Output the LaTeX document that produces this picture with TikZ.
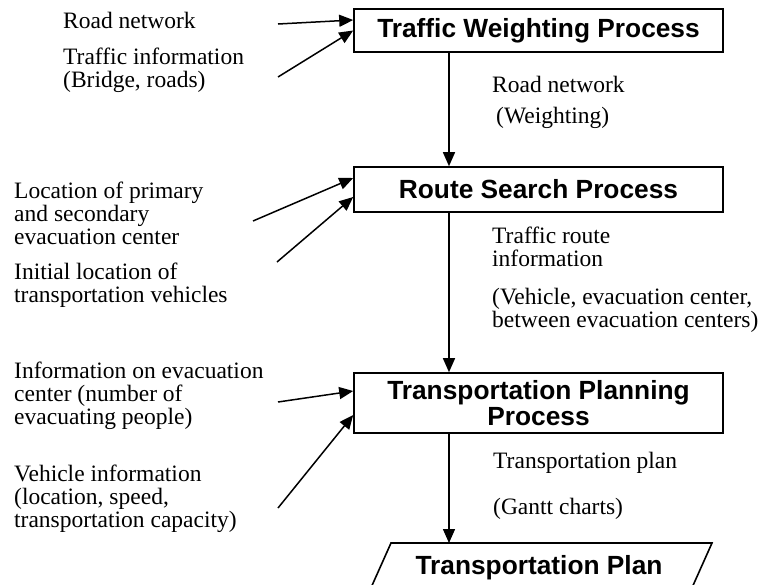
\documentclass[tikz,border=0pt]{standalone}
\usepackage{fontspec}
\setmainfont{Liberation Serif}
\newfontfamily\procfont{Liberation Sans}
\usetikzlibrary{arrows.meta}

\tikzset{
  procbox/.style={draw, line width=1.6pt, minimum width=369pt, inner sep=0pt,
    font=\procfont\bfseries\fontsize{26.3}{26.5}\selectfont, align=center},
  planlabel/.style={inner sep=0pt, anchor=base,
    font=\procfont\bfseries\fontsize{26.3}{26.5}\selectfont},
  % multi-line notes are placed by the baseline of their last line
  note/.style={anchor=base west, inner sep=0pt, align=left,
    font=\fontsize{23.5}{23}\selectfont},
  flow/.style={line width=1.5pt, -{Triangle[length=14pt,width=12pt]}},
}

\begin{document}
\begin{tikzpicture}[x=1pt,y=-1pt]
\useasboundingbox (0,0) rectangle (766,584);

% process boxes
\node[procbox, minimum height=43pt] (b1) at (538.5,30.5) {Traffic Weighting Process};
\node[procbox, minimum height=45pt] (b2) at (538.5,189.5) {Route Search Process};
\node[procbox, minimum height=60pt] (b3) at (538.5,403) {Transportation Planning\\Process};

% output document (parallelogram running off the page bottom)
\begin{scope}
  \clip (0,0) rectangle (766,584);
  \draw[line width=1.6pt] (391,543) -- (712,543) -- (691,590) -- (370,590) -- cycle;
\end{scope}
\node[planlabel] (plan) at (539,574) {Transportation Plan};
\coordinate (plantop) at (449,543);

% main flow
\coordinate (ax) at (449,0);
\draw[flow] (b1.south -| ax) -- (b2.north -| ax);
\draw[flow] (b2.south -| ax) -- (b3.north -| ax);
\draw[flow] (b3.south -| ax) -- (plantop);

% flow labels
\node[note] (f1a) at (492,92) {Road network};
\node[note] (f1b) at (496,123) {(Weighting)};
\node[note] (f2a) at (492,266) {Traffic route\\information};
\node[note] (f2b) at (492,327) {(Vehicle, evacuation center,\\between evacuation centers)};
\node[note] (f3a) at (493,468) {Transportation plan};
\node[note] (f3b) at (493,514) {(Gantt charts)};

% inputs to the traffic weighting process
\node[note] (n1) at (63,28) {Road network};
\node[note] (n2) at (63,87) {Traffic information\\(Bridge, roads)};
\coordinate (s1) at (278,24);
\coordinate (s2) at (278,77);
\draw[flow] (s1) -- ([yshift=10.5pt]b1.west);
\draw[flow] (s2) -- (b1.west);

% inputs to the route search process
\node[note] (n3) at (14,244) {Location of primary\\and secondary\\evacuation center};
\node[note] (n4) at (14,302) {Initial location of\\transportation vehicles};
\coordinate (s3) at (253,221);
\coordinate (s4) at (277,262);
\draw[flow] (s3) -- ([yshift=11.5pt]b2.west);
\draw[flow] (s4) -- ([yshift=-7.5pt]b2.west);

% inputs to the transportation planning process
\node[note] (n5) at (14,424) {Information on evacuation\\center (number of\\evacuating people)};
\node[note] (n6) at (14,527) {Vehicle information\\(location, speed,\\transportation capacity)};
\coordinate (s5) at (278,402);
\coordinate (s6) at (278,508);
\draw[flow] (s5) -- ([yshift=12pt]b3.west);
\draw[flow] (s6) -- ([yshift=-12pt]b3.west);
\end{tikzpicture}
\end{document}
